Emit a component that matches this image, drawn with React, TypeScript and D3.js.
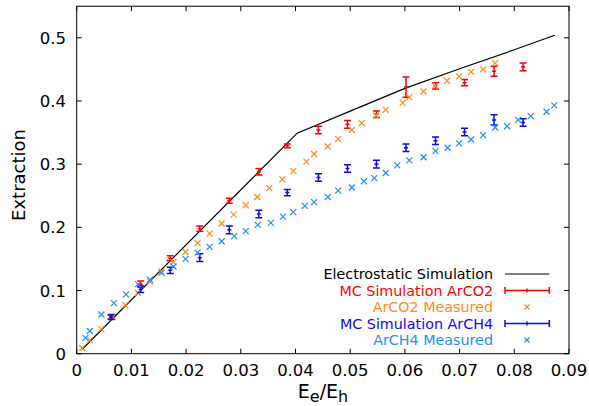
import React from 'react';
import * as d3 from 'd3';

const xTicks = [0, 0.01, 0.02, 0.03, 0.04, 0.05, 0.06, 0.07, 0.08, 0.09];
const xTickLabels = ['0', '0.01', '0.02', '0.03', '0.04', '0.05', '0.06', '0.07', '0.08', '0.09'];
const yTicks = [0, 0.1, 0.2, 0.3, 0.4, 0.5];
const yTickLabels = ['0', '0.1', '0.2', '0.3', '0.4', '0.5'];

const electroX = [0.001, 0.0403, 0.05, 0.06, 0.07, 0.08, 0.0874];
const electroY = [0.007, 0.349, 0.384, 0.42, 0.451, 0.481, 0.504];

const mcCO2X = [0.0063, 0.0117, 0.0171, 0.0225, 0.0279, 0.0333, 0.0385, 0.0442, 0.0495, 0.0548, 0.0602, 0.0656, 0.0709, 0.0763, 0.0816];
const mcCO2Y = [0.058, 0.11, 0.151, 0.198, 0.242, 0.288, 0.329, 0.354, 0.363, 0.379, 0.422, 0.424, 0.429, 0.447, 0.454];
const mcCO2Err = [0.003, 0.005, 0.004, 0.004, 0.004, 0.005, 0.003, 0.006, 0.006, 0.005, 0.016, 0.005, 0.005, 0.008, 0.006];

const mcCH4X = [0.0063, 0.0117, 0.0171, 0.0225, 0.0279, 0.0333, 0.0385, 0.0442, 0.0495, 0.0548, 0.0602, 0.0656, 0.0709, 0.0763, 0.0816];
const mcCH4Y = [0.058, 0.102, 0.132, 0.152, 0.196, 0.221, 0.255, 0.279, 0.293, 0.3, 0.326, 0.337, 0.351, 0.37, 0.366];
const mcCH4Err = [0.004, 0.005, 0.005, 0.006, 0.006, 0.006, 0.005, 0.006, 0.006, 0.006, 0.006, 0.006, 0.006, 0.008, 0.006];

const co2MeasX = [0.001, 0.0024, 0.0045, 0.0066, 0.0089, 0.0112, 0.0134, 0.0155, 0.0177, 0.0199, 0.0221, 0.0243, 0.0265, 0.0287, 0.0309, 0.033, 0.0352, 0.0376, 0.0396, 0.042, 0.0434, 0.0459, 0.0478, 0.0503, 0.0521, 0.0547, 0.0565, 0.0596, 0.0608, 0.0634, 0.0655, 0.0677, 0.0699, 0.0721, 0.0743, 0.0765];
const co2MeasY = [0.009, 0.021, 0.039, 0.058, 0.077, 0.096, 0.114, 0.13, 0.145, 0.161, 0.175, 0.19, 0.206, 0.22, 0.235, 0.248, 0.262, 0.276, 0.289, 0.304, 0.316, 0.328, 0.34, 0.354, 0.365, 0.377, 0.386, 0.397, 0.406, 0.415, 0.424, 0.432, 0.439, 0.446, 0.45, 0.46];

const ch4MeasX = [0.0016, 0.0024, 0.0045, 0.0068, 0.009, 0.0112, 0.0134, 0.0155, 0.0177, 0.0199, 0.0221, 0.0243, 0.0265, 0.0288, 0.0309, 0.0331, 0.0355, 0.0377, 0.0396, 0.0417, 0.0434, 0.0459, 0.0478, 0.0503, 0.0525, 0.0544, 0.0565, 0.0586, 0.0608, 0.0634, 0.0656, 0.0678, 0.0699, 0.0721, 0.0743, 0.0765, 0.0787, 0.0807, 0.083, 0.0859, 0.0873];
const ch4MeasY = [0.025, 0.036, 0.062, 0.08, 0.094, 0.11, 0.117, 0.128, 0.138, 0.15, 0.16, 0.169, 0.178, 0.186, 0.194, 0.204, 0.207, 0.217, 0.224, 0.234, 0.24, 0.248, 0.258, 0.263, 0.273, 0.278, 0.286, 0.298, 0.306, 0.311, 0.321, 0.326, 0.333, 0.339, 0.346, 0.358, 0.36, 0.37, 0.376, 0.383, 0.393];

const legendLabels = ['Electrostatic Simulation', 'MC Simulation ArCO2', 'ArCO2 Measured', 'MC Simulation ArCH4', 'ArCH4 Measured'];

const RED = '#ff0000';
const ORANGE = '#ff8a1e';
const BLUE = '#0a0aee';
const SKY = '#1e90ff';
const FONT = 'DejaVu Sans';

const W = 589, H = 406;
const L = 76.7, R = 569, T = 6.2, B = 353.7;

export default function App() {
  const x = d3.scaleLinear().domain([0, 0.09]).range([L, R]);
  const y = d3.scaleLinear().domain([0, 0.55]).range([B, T]);
  const line = d3.line<number>().x((d, i) => x(electroX[i])).y((d) => y(d));
  const tl = 5;

  const cross = (cx: number, cy: number, c: string, k: string, s = 3) => (
    <path key={k} d={`M${cx - s},${cy - s}L${cx + s},${cy + s}M${cx - s},${cy + s}L${cx + s},${cy - s}`} stroke={c} strokeWidth={1.2} fill="none" />
  );
  const errBar = (cx: number, v: number, e: number, c: string, k: string) => {
    const y0 = y(v - e), y1 = y(v + e), yc = y(v);
    return (
      <g key={k} stroke={c} strokeWidth={1.5} fill="none">
        <path d={`M${cx},${y0}L${cx},${y1}M${cx - 3.5},${y0}L${cx + 3.5},${y0}M${cx - 3.5},${y1}L${cx + 3.5},${y1}M${cx - 2},${yc}L${cx + 2},${yc}`} />
      </g>
    );
  };

  const legX1 = 505, legX2 = 549.3, legMid = 527, legTextX = 493;
  const legRowY = (i: number) => 274 + i * 16.5;

  return (
    <svg width={W} height={H} style={{ position: 'absolute', left: 0, top: 0, background: '#fff' }} fontFamily={FONT}>
      <rect x={0} y={0} width={W} height={H} fill="#fff" />
      {/* ticks */}
      <g stroke="#000" strokeWidth={1}>
        {xTicks.map((t, i) => (
          <g key={'xt' + i}>
            <line x1={x(t)} x2={x(t)} y1={B} y2={B - tl} />
            <line x1={x(t)} x2={x(t)} y1={T} y2={T + tl} />
          </g>
        ))}
        {yTicks.map((t, i) => (
          <g key={'yt' + i}>
            <line x1={L} x2={L + tl} y1={y(t)} y2={y(t)} />
            <line x1={R} x2={R - tl} y1={y(t)} y2={y(t)} />
          </g>
        ))}
      </g>
      {xTicks.map((t, i) => (
        <text key={'xl' + i} x={x(t)} y={376} textAnchor="middle" fontSize={16.5} fill="#000">{xTickLabels[i]}</text>
      ))}
      {yTicks.map((t, i) => (
        <text key={'yl' + i} x={66} y={y(t) + 6} textAnchor="end" fontSize={16.5} fill="#000">{yTickLabels[i]}</text>
      ))}
      <text transform={`translate(25,175) rotate(-90)`} textAnchor="middle" fontSize={18} fill="#000">Extraction</text>
      <text x={323} y={397.5} textAnchor="middle" fontSize={19} fill="#000">
        <tspan>E</tspan><tspan dy={4.5} fontSize={16}>e</tspan><tspan dy={-4.5}>/E</tspan><tspan dy={4.5} fontSize={16}>h</tspan>
      </text>

      {/* data */}
      <path d={line(electroY) || ''} fill="none" stroke="#000" strokeWidth={1.2} />
      {mcCO2X.map((v, i) => errBar(x(v), mcCO2Y[i], mcCO2Err[i], RED, 'r' + i))}
      {co2MeasX.map((v, i) => cross(x(v), y(co2MeasY[i]), ORANGE, 'o' + i))}
      {mcCH4X.map((v, i) => errBar(x(v), mcCH4Y[i], mcCH4Err[i], BLUE, 'b' + i))}
      {ch4MeasX.map((v, i) => cross(x(v), y(ch4MeasY[i]), SKY, 's' + i))}

      {/* legend */}
      {legendLabels.map((lab, i) => (
        <text key={'lg' + i} x={legTextX} y={legRowY(i) + 5.2} textAnchor="end" fontSize={14.3}
          fill={[ '#000', RED, ORANGE, BLUE, SKY ][i]}>{lab}</text>
      ))}
      <line x1={legX1} x2={legX2} y1={legRowY(0)} y2={legRowY(0)} stroke="#000" strokeWidth={1.2} />
      {[1, 3].map((i) => (
        <path key={'le' + i} d={`M${legX1},${legRowY(i)}L${legX2},${legRowY(i)}M${legX1},${legRowY(i) - 3.5}L${legX1},${legRowY(i) + 3.5}M${legX2},${legRowY(i) - 3.5}L${legX2},${legRowY(i) + 3.5}M${legMid},${legRowY(i) - 2}L${legMid},${legRowY(i) + 2}`}
          stroke={i === 1 ? RED : BLUE} strokeWidth={1.5} fill="none" />
      ))}
      {cross(legMid, legRowY(2), ORANGE, 'lo', 2.5)}
      {cross(legMid, legRowY(4), SKY, 'ls', 2.5)}

      <rect x={L} y={T} width={R - L} height={B - T} fill="none" stroke="#000" strokeWidth={1} />
    </svg>
  );
}
